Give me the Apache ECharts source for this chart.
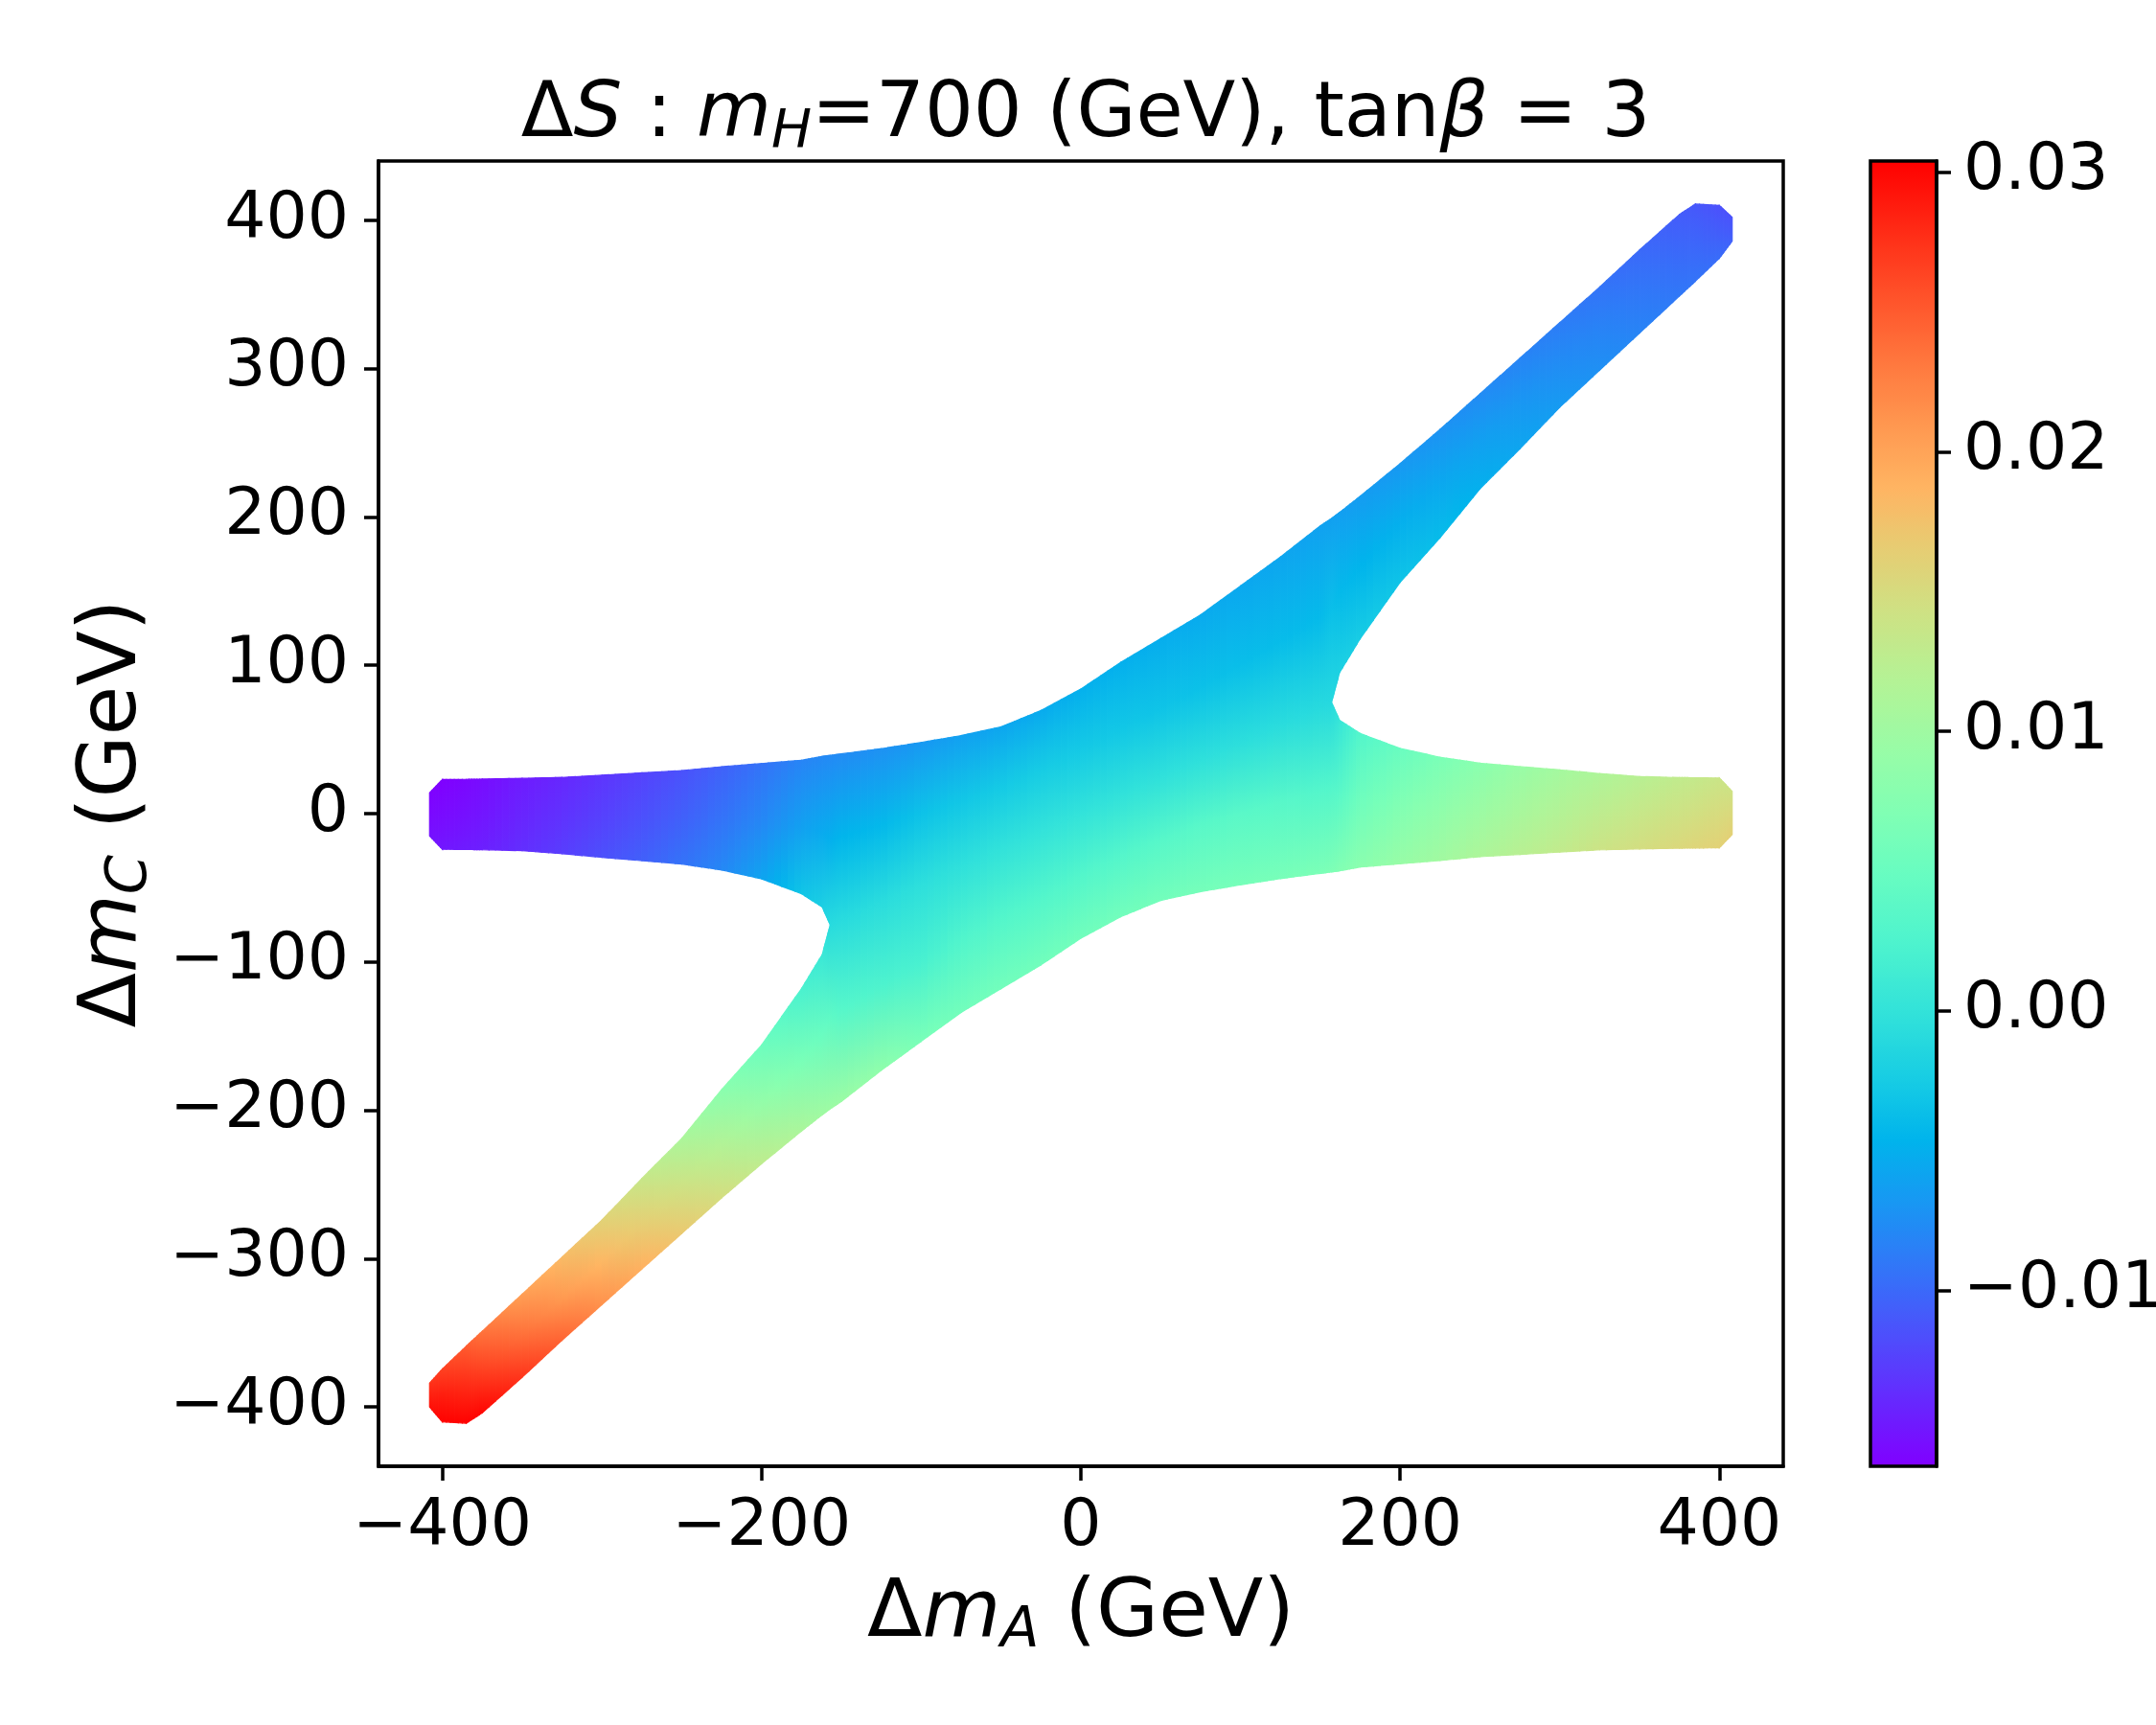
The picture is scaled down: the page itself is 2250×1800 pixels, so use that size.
<!DOCTYPE html>
<html>
<head>
<meta charset="utf-8">
<script src="https://cdn.jsdelivr.net/npm/echarts@6/dist/echarts.min.js"></script>
<style>
html, body { margin: 0; padding: 0; background: #fff; }
#chart { width: 2250px; height: 1800px; }
</style>
</head>
<body>
<div id="chart"></div>
<script>
var colX = [-408, -400, -385, -375, -350, -325, -300, -275, -250, -225, -200, -175, -162, -157,
    -150, -125, -100, -75, -50, -25, 0, 25, 50, 75, 100, 125, 150,
    157, 162, 175, 200, 225, 250, 275, 300, 325, 350, 375, 385, 400, 408];

// lower piece (left: lower arm, centre: below the seam, right: horizontal band), Delta m_C edges
var lowBot = [-400, -410, -411, -404, -380, -355, -331, -307, -283, -259, -236, -214, -203, -199,
    -194, -173, -153.5, -134, -118, -102, -84, -69.5, -58.5, -52.6, -48, -43.8, -40.3,
    -39.3, -38.6, -36, -33.8, -31.6, -29, -27.5, -25.9, -24.4, -23.8, -23.3, -23.2, -23, -14];
var lowTop = [-384, -374.5, -359, -349, -324, -299, -274, -246, -219, -186, -156, -118, -95, -75,
    -71.7, -59.8, -47.8, -35.9, -23.9, -12, 0, 12, 23.9, 35.9, 47.8, 59.8, 71.7,
    75, 63, 54, 44, 38, 34, 31.7, 29.5, 27, 25, 24.3, 24.2, 24, 15];

// upper piece (left: horizontal band, centre: above the seam, right: upper arm)
var upBot = [-15, -24, -24.2, -24.3, -25, -27, -29.5, -31.7, -34, -38, -44, -54, -63, -75,
    -71.7, -59.8, -47.8, -35.9, -23.9, -12, 0, 12, 23.9, 35.9, 47.8, 59.8, 71.7,
    75, 95, 118, 156, 186, 219, 246, 274, 299, 324, 349, 359, 374.5, 386];
var upTop = [14, 23, 23.1, 23.3, 23.8, 24.4, 25.9, 27.5, 29, 31.6, 33.8, 36, 38.6, 39.3,
    40.3, 43.8, 48, 52.6, 58.5, 69.5, 84, 102, 118, 134, 153.5, 173, 194,
    199, 203, 214, 236, 259, 283, 307, 331, 355, 380, 404, 411, 410, 402];

var lowValBot = [0.0295, 0.0303, 0.0303, 0.0300, 0.0273, 0.0244, 0.0214, 0.0190, 0.0169, 0.0148, 0.0128, 0.0110, 0.0100, 0.0097,
    0.0095, 0.0085, 0.0064, 0.0058, 0.0058, 0.0057, 0.0057, 0.0058, 0.0059, 0.0061, 0.0062, 0.0063, 0.0066,
    0.0068, 0.0072, 0.0080, 0.0092, 0.0101, 0.0112, 0.0122, 0.0131, 0.0140, 0.0147, 0.0154, 0.0157, 0.0161, 0.0162];
var lowValMid = [0.0285, 0.0287, 0.0278, 0.0267, 0.0237, 0.0208, 0.0185, 0.0163, 0.0142, 0.0116, 0.0090, 0.0064, 0.0050, 0.0040,
    0.0033, 0.0025, 0.0020, 0.0028, 0.0030, 0.0030, 0.0030, 0.0031, 0.0033, 0.0035, 0.0036, 0.0034, 0.0030,
    0.0030, 0.0036, 0.0055, 0.0072, 0.0084, 0.0096, 0.0107, 0.0117, 0.0127, 0.0135, 0.0142, 0.0145, 0.0150, 0.0153];
var lowValTop = [0.0275, 0.0266, 0.0250, 0.0234, 0.0204, 0.0182, 0.0160, 0.0136, 0.0111, 0.0080, 0.0053, 0.0022, 0.0007, -0.0010,
    -0.0010, -0.0008, -0.0005, -0.0003, -0.0001, 0.0000, 0.0000, -0.0001, -0.0002, -0.0004, -0.0006, -0.0008, -0.0011,
    -0.0012, 0.0003, 0.0030, 0.0050, 0.0066, 0.0080, 0.0093, 0.0104, 0.0113, 0.0122, 0.0130, 0.0133, 0.0138, 0.0143];
var upValBot = [-0.0153, -0.0150, -0.0147, -0.0145, -0.0136, -0.0127, -0.0116, -0.0106, -0.0094, -0.0080, -0.0060, -0.0032, -0.0022, -0.0010,
    -0.0010, -0.0008, -0.0005, -0.0003, -0.0001, 0.0000, 0.0000, -0.0001, -0.0002, -0.0004, -0.0006, -0.0008, -0.0011,
    -0.0012, -0.0020, -0.0025, -0.0033, -0.0040, -0.0050, -0.0058, -0.0066, -0.0074, -0.0082, -0.0090, -0.0093, -0.0098, -0.0105];
var upValMid = [-0.0158, -0.0157, -0.0154, -0.0151, -0.0142, -0.0134, -0.0125, -0.0116, -0.0106, -0.0094, -0.0080, -0.0062, -0.0055, -0.0050,
    -0.0046, -0.0043, -0.0035, -0.0030, -0.0027, -0.0025, -0.0027, -0.0030, -0.0033, -0.0036, -0.0038, -0.0040, -0.0042,
    -0.0037, -0.0042, -0.0046, -0.0050, -0.0056, -0.0062, -0.0069, -0.0076, -0.0083, -0.0091, -0.0099, -0.0102, -0.0107, -0.0110];
var upValTop = [-0.0162, -0.0163, -0.0159, -0.0156, -0.0147, -0.0140, -0.0132, -0.0124, -0.0115, -0.0105, -0.0094, -0.0082, -0.0079, -0.0078,
    -0.0077, -0.0073, -0.0068, -0.0062, -0.0058, -0.0054, -0.0050, -0.0050, -0.0052, -0.0054, -0.0056, -0.0058, -0.0061,
    -0.0062, -0.0063, -0.0065, -0.0068, -0.0072, -0.0077, -0.0082, -0.0087, -0.0093, -0.0100, -0.0108, -0.0111, -0.0115, -0.0114];

// axes
var xTicks = [-400, -200, 0, 200, 400];
var yTicks = [-400, -300, -200, -100, 0, 100, 200, 300, 400];
var cbTicks = [-0.01, 0.00, 0.01, 0.02, 0.03];
var vMin = -0.0163, vMax = 0.0304;

var FONT = 'DejaVu Sans';
var TICK_FS = 68, LABEL_FS = 84;

// matplotlib "rainbow" colormap
function rainbow(t) {
    t = Math.max(0, Math.min(1, t));
    var r = Math.min(1, Math.abs(2 * t - 0.5));
    var g = Math.max(0, Math.sin(Math.PI * t));
    var b = Math.max(0, Math.cos(Math.PI * t / 2));
    return 'rgb(' + Math.round(r * 255) + ',' + Math.round(g * 255) + ',' + Math.round(b * 255) + ')';
}
function cmap(v) {
    return rainbow((v - vMin) / (vMax - vMin));
}
var rainbowStops = [];
for (var k = 0; k <= 20; k++) rainbowStops.push(rainbow(k / 20));

function minus(s) { return s.replace('-', '\u2212'); }

// one item per piece between neighbouring columns
var quads = [];
for (var i = 0; i < colX.length - 1; i++) {
    quads.push([colX[i], colX[i + 1], lowBot[i], lowTop[i], lowBot[i + 1], lowTop[i + 1],
        lowValBot[i], lowValMid[i], lowValTop[i], lowValBot[i + 1], lowValMid[i + 1], lowValTop[i + 1]]);
    quads.push([colX[i], colX[i + 1], upBot[i], upTop[i], upBot[i + 1], upTop[i + 1],
        upValBot[i], upValMid[i], upValTop[i], upValBot[i + 1], upValMid[i + 1], upValTop[i + 1]]);
}

var SUB = 6;
function renderQuad(params, api) {
    var v = [];
    for (var d = 0; d < 12; d++) v.push(api.value(d));
    var kids = [];
    for (var j = 0; j < SUB; j++) {
        var s0 = j / SUB, s1 = (j + 1) / SUB, sc = (s0 + s1) / 2;
        var xa = v[0] + (v[1] - v[0]) * s0, xb = v[0] + (v[1] - v[0]) * s1, xm = v[0] + (v[1] - v[0]) * sc;
        var ba = v[2] + (v[4] - v[2]) * s0, bb = v[2] + (v[4] - v[2]) * s1;
        var ta = v[3] + (v[5] - v[3]) * s0, tb = v[3] + (v[5] - v[3]) * s1;
        var pts = [api.coord([xa, ba]), api.coord([xb, bb]), api.coord([xb, tb]), api.coord([xa, ta])];
        var g0 = api.coord([xm, (ba + bb) / 2]);
        var g1 = api.coord([xm, (ta + tb) / 2]);
        var cb = v[6] + (v[9] - v[6]) * sc, cm = v[7] + (v[10] - v[7]) * sc, ct = v[8] + (v[11] - v[8]) * sc;
        var grad = new echarts.graphic.LinearGradient(g0[0], g0[1], g1[0], g1[1], [
            { offset: 0, color: cmap(cb) },
            { offset: 0.5, color: cmap(cm) },
            { offset: 1, color: cmap(ct) }
        ], true);
        kids.push({ type: 'polygon', shape: { points: pts }, style: { fill: grad, stroke: grad, lineWidth: 1.2 } });
    }
    return { type: 'group', children: kids };
}

function richSet(fs) {
    var sub = Math.round(fs * 0.7);
    return {
        r: { fontFamily: FONT, fontSize: fs, fontWeight: 'normal', color: '#000' },
        i: { fontFamily: FONT, fontSize: fs, fontStyle: 'italic', fontWeight: 'normal', color: '#000' },
        s: { fontFamily: FONT, fontSize: sub, fontStyle: 'italic', fontWeight: 'normal', color: '#000',
            lineHeight: sub, padding: [Math.round(fs * 0.43), 0, 0, 0] }
    };
}

var axisLine = { show: true, onZero: false, lineStyle: { color: '#000', width: 3.5 } };
var tickStyle = { color: '#000', width: 3.5 };

var chart = echarts.init(document.getElementById('chart'), null, { renderer: 'canvas' });
chart.setOption({
    animation: false,
    backgroundColor: '#fff',
    title: {
        text: '{r|\u0394}{i|S}{r| : }{i|m}{s|H}{r|=700 (GeV), tan}{i|\u03b2}{r| = 3}',
        left: 1128,
        top: 76,
        textAlign: 'center',
        textStyle: { fontWeight: 'normal', rich: richSet(80) }
    },
    grid: [
        { left: 395, top: 168, width: 1466, height: 1362, outerBoundsMode: 'none',
            show: true, borderColor: '#000', borderWidth: 3.5, backgroundColor: 'transparent' },
        { left: 1952, top: 168, width: 69, height: 1362, outerBoundsMode: 'none',
            show: true, borderColor: '#000', borderWidth: 3.5, backgroundColor: 'transparent', z: 10 }
    ],
    xAxis: [
        {
            type: 'value', gridIndex: 0, min: -440, max: 440,
            axisLine: axisLine, splitLine: { show: false },
            axisTick: { show: true, length: 15, lineStyle: tickStyle, customValues: xTicks },
            axisLabel: { customValues: xTicks, fontFamily: FONT, fontSize: TICK_FS, color: '#000', margin: 30,
                formatter: function (v) { return minus(String(v)); } },
            name: '{r|\u0394}{i|m}{s|A}{r| (GeV)}',
            nameLocation: 'middle',
            nameGap: 113,
            nameTextStyle: { rich: richSet(LABEL_FS) }
        },
        { type: 'value', gridIndex: 1, min: 0, max: 1, show: false }
    ],
    yAxis: [
        {
            type: 'value', gridIndex: 0, min: -440, max: 440,
            axisLine: axisLine, splitLine: { show: false },
            axisTick: { show: true, length: 15, lineStyle: tickStyle, customValues: yTicks },
            axisLabel: { customValues: yTicks, fontFamily: FONT, fontSize: TICK_FS, color: '#000', margin: 31,
                formatter: function (v) { return minus(String(v)); } },
            name: '{r|\u0394}{i|m}{s|C}{r| (GeV)}',
            nameLocation: 'middle',
            nameGap: 209,
            nameTextStyle: { rich: richSet(LABEL_FS) }
        },
        {
            type: 'value', gridIndex: 1, min: vMin, max: vMax, position: 'right', z: 10,
            axisLine: axisLine, splitLine: { show: false },
            axisTick: { show: true, length: 15, lineStyle: tickStyle, customValues: cbTicks },
            axisLabel: { customValues: cbTicks, fontFamily: FONT, fontSize: TICK_FS, color: '#000', margin: 28,
                formatter: function (v) { return minus(v.toFixed(2)); } }
        }
    ],
    visualMap: {
        type: 'continuous',
        min: vMin,
        max: vMax,
        calculable: false,
        orient: 'vertical',
        left: 1952,
        top: 168,
        itemWidth: 69,
        itemHeight: 1362,
        padding: 0,
        seriesIndex: 0,
        dimension: 7,
        inRange: { color: rainbowStops }
    },
    series: [{
        type: 'custom',
        coordinateSystem: 'cartesian2d',
        xAxisIndex: 0,
        yAxisIndex: 0,
        silent: true,
        renderItem: renderQuad,
        data: quads
    }]
});
</script>
</body>
</html>
